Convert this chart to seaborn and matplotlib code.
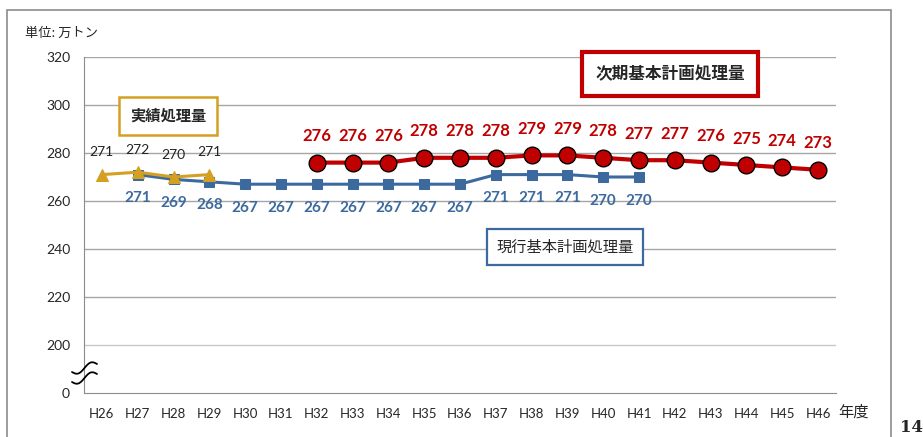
import pandas as pd
import numpy as np
import seaborn as sns
import matplotlib.pyplot as plt
from matplotlib.patches import Rectangle
from matplotlib.lines import Line2D

# 年度ラベル
nendo = ["H26", "H27", "H28", "H29", "H30", "H31", "H32", "H33", "H34", "H35", "H36",
         "H37", "H38", "H39", "H40", "H41", "H42", "H43", "H44", "H45", "H46"]

# 実績処理量 (H26-H29)
jisseki_nendo = ["H26", "H27", "H28", "H29"]
jisseki = [271, 272, 270, 271]

# 現行基本計画処理量 (H27-H41)
genkou_nendo = ["H27", "H28", "H29", "H30", "H31", "H32", "H33", "H34", "H35", "H36",
                "H37", "H38", "H39", "H40", "H41"]
genkou = [271, 269, 268, 267, 267, 267, 267, 267, 267, 267, 271, 271, 271, 270, 270]

# 次期基本計画処理量 (H32-H46)
jiki_nendo = ["H32", "H33", "H34", "H35", "H36", "H37", "H38", "H39", "H40", "H41",
              "H42", "H43", "H44", "H45", "H46"]
jiki = [276, 276, 276, 278, 278, 278, 279, 279, 278, 277, 277, 276, 275, 274, 273]

# y軸 (0 は途中省略)
y_ticks = [180, 200, 220, 240, 260, 280, 300, 320]
y_labels = ["0", "200", "220", "240", "260", "280", "300", "320"]

GOLD = "#D4A021"
BLUE = "#3C6A9E"
RED = "#C00000"
NUM_FONT = ["Lato", "Noto Sans CJK JP", "DejaVu Sans"]

sns.set_style("white")
plt.rcParams["font.family"] = ["Noto Sans CJK JP", "DejaVu Sans"]

pos = {n: i for i, n in enumerate(nendo)}
df_j = pd.DataFrame({"x": [pos[n] for n in jisseki_nendo], "y": jisseki})
df_g = pd.DataFrame({"x": [pos[n] for n in genkou_nendo], "y": genkou})
df_n = pd.DataFrame({"x": [pos[n] for n in jiki_nendo], "y": jiki})

W, H = 923, 437
fig = plt.figure(figsize=(9.23, 4.37), dpi=100)
ax = fig.add_axes([84 / W, 1 - 393 / H, (836 - 84) / W, (393 - 57) / H])

# 外枠
fig.patches.append(Rectangle((7 / W, -0.05), (891 - 7) / W, 1 - 10 / H + 0.05,
                             transform=fig.transFigure, fill=False, edgecolor="#8c8c8c",
                             linewidth=1.2))

sns.lineplot(data=df_g, x="x", y="y", ax=ax, color=BLUE, linewidth=2.2, marker="s",
             markersize=7, markeredgecolor=BLUE, zorder=3)
sns.lineplot(data=df_j, x="x", y="y", ax=ax, color=GOLD, linewidth=2.2, marker="^",
             markersize=8, markeredgecolor=GOLD, zorder=4)
sns.lineplot(data=df_n, x="x", y="y", ax=ax, color=RED, linewidth=3, marker="o",
             markersize=12, markeredgecolor="black", markeredgewidth=1, zorder=5)

# データラベル
for x, y in zip(df_j["x"], df_j["y"]):
    ax.annotate(str(y), (x, y), xytext=(0, 16), textcoords="offset points", ha="center",
                va="center", fontsize=10, color="#222222", family=NUM_FONT)
for x, y in zip(df_g["x"], df_g["y"]):
    ax.annotate(str(y), (x, y), xytext=(0, -17), textcoords="offset points", ha="center",
                va="center", fontsize=11, color=BLUE, fontweight="bold", family=NUM_FONT)
for x, y in zip(df_n["x"], df_n["y"]):
    ax.annotate(str(y), (x, y), xytext=(0, 19), textcoords="offset points", ha="center",
                va="center", fontsize=12, color=RED, fontweight="bold", family=NUM_FONT)

ax.set_xlim(-0.5, len(nendo) - 0.5)
ax.set_ylim(180, 320)
ax.set_yticks(y_ticks)
ax.set_yticklabels(y_labels, fontsize=10, family=NUM_FONT)
ax.set_xticks(range(len(nendo)))
ax.set_xticklabels(nendo, fontsize=9.5, family=NUM_FONT)
ax.set_xticks(np.arange(-0.5, len(nendo), 1), minor=True)
ax.tick_params(axis="x", which="major", length=0, pad=11)
ax.tick_params(axis="x", which="minor", length=4, color="#8c8c8c", direction="out")
ax.tick_params(axis="y", length=4, color="#8c8c8c", direction="out", pad=6)
ax.set_xlabel("")
ax.set_ylabel("")
for v in y_ticks[1:]:
    ax.axhline(v, color="#a6a6a6" if v > 200 else "#c8c8c8", linewidth=1, zorder=0)
for s in ["top", "right"]:
    ax.spines[s].set_visible(False)
ax.spines["left"].set_color("#8c8c8c")
ax.spines["bottom"].set_color("#8c8c8c")

# 省略記号 (波線2本)
t = np.linspace(0, 1, 40)
for dy in (0, 10):
    px = 72 + 25 * t
    py = 372 + dy - 8 * t + 3.5 * np.sin(2 * np.pi * t)
    fig.add_artist(Line2D(px / W, 1 - py / H, transform=fig.transFigure,
                          color="black", linewidth=1.3, zorder=10))

# 系列名のボックス
fig.text(168 / W, 1 - 116 / H, "実績処理量", ha="center", va="center", fontsize=11,
         fontweight="bold",
         bbox=dict(boxstyle="square,pad=0.7", facecolor="white", edgecolor=GOLD, linewidth=1.8))
fig.text(670 / W, 1 - 74 / H, "次期基本計画処理量", ha="center", va="center", fontsize=12,
         fontweight="bold",
         bbox=dict(boxstyle="square,pad=0.8", facecolor="white", edgecolor=RED, linewidth=3))
fig.text(565 / W, 1 - 247 / H, "現行基本計画処理量", ha="center", va="center", fontsize=11,
         bbox=dict(boxstyle="square,pad=0.6", facecolor="white", edgecolor=BLUE, linewidth=1.6))

fig.text(25 / W, 1 - 33 / H, "単位: 万トン", ha="left", va="center", fontsize=9.5)
fig.text(838 / W, 1 - 412 / H, "年度", ha="left", va="center", fontsize=11)
fig.text(900 / W, 1 - 428 / H, "14", ha="left", va="center", fontsize=12,
         fontweight="bold", family="DejaVu Serif")

fig.savefig("out.png", dpi=100)
